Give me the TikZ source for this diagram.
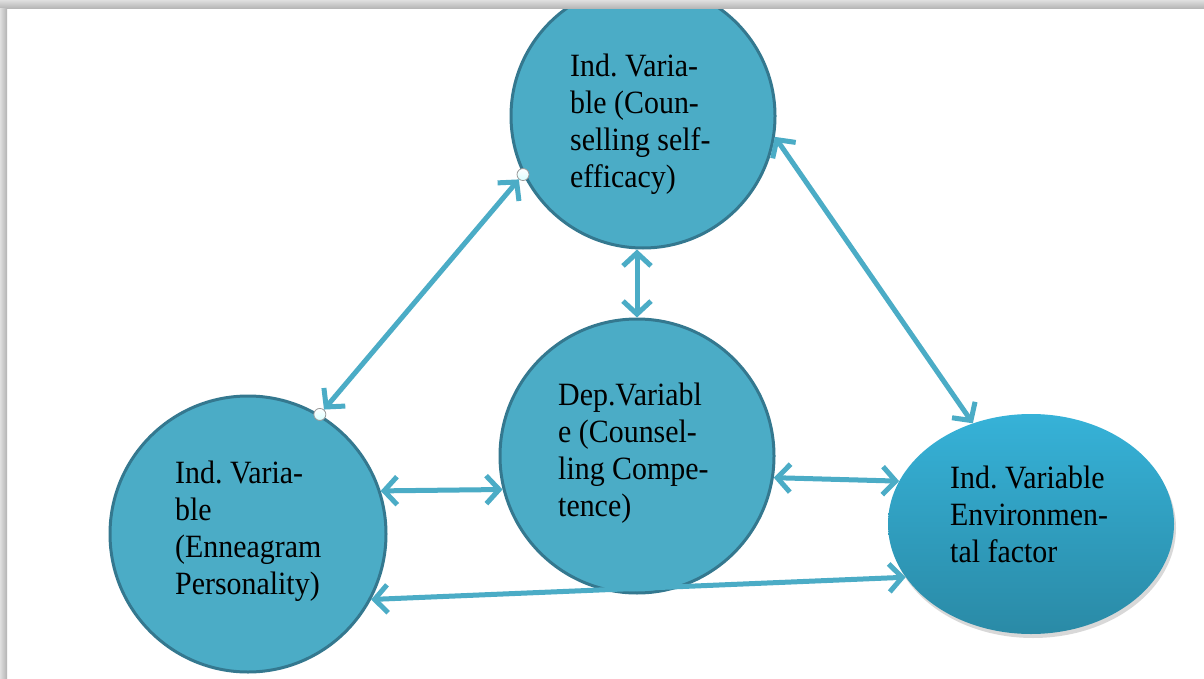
\documentclass[tikz,border=0pt]{standalone}
\usepackage{fontspec}
\setmainfont[FakeStretch=0.92]{Liberation Serif}
\usetikzlibrary{arrows.meta,shapes.geometric,shadows,calc}
\definecolor{acc}{HTML}{4BACC6}
\definecolor{accdark}{HTML}{34788F}
\definecolor{eltop}{HTML}{36B2D8}
\definecolor{elbot}{HTML}{2A8AA6}
\begin{document}
\frenchspacing
\begin{tikzpicture}[x=1pt,y=-1pt,
  bubble/.style={circle, draw=accdark, line width=3pt, fill=acc, minimum size=#1, inner sep=0pt},
  oval/.style={ellipse, minimum width=286pt, minimum height=220pt, inner sep=0pt,
    top color=eltop, bottom color=elbot,
    drop shadow={opacity=0.3, shadow xshift=2pt, shadow yshift=-4pt}},
  handle/.style={circle, draw=gray!80, line width=0.8pt, top color=white, bottom color=cyan!15, minimum size=12pt, inner sep=0pt},
  barb/.tip={Straight Barb[length=13pt,width=28pt]},
  conn/.style={draw=acc, line width=5pt, barb-barb},
  lbl/.style={anchor=base west, inner sep=0pt, text width=220pt, align=flush left,
    font=\fontsize{32.5}{37}\selectfont, text=black}]
\useasboundingbox (0,0) rectangle (1204,679);
\fill[white] (0,0) rectangle (1204,679);

% shapes
\node[bubble=264pt] (top) at (643,116) {};
\node[bubble=274pt] (mid) at (637,456) {};
\node[bubble=276pt] (left) at (248,534) {};
\node[oval] (right) at (1031,524) {};

% handles
\node[handle] (h1) at (top.206) {};
\node[handle] (h2) at (left.59) {};

% connectors
\draw[conn] (h2) -- (h1);
\draw[conn] (mid.north) -- (top.south -| mid.north);
\draw[conn] (top.-9) -- (right.120);
\draw[conn] (left.18) -- (mid.194);
\draw[conn] (mid.-9) -- (right.162.5);
\draw[conn] (left.-28) -- (right.203);

% texts
\node[lbl] (ttop) at (570,77) {Ind. Varia-\\ble (Coun-\\selling self-\\efficacy)};
\node[lbl] (tmid) at (558,405) {Dep.Variabl\\e (Counsel-\\ling Compe-\\tence)};
\node[lbl] (tleft) at (175,483) {Ind. Varia-\\ble\\(Enneagram\\Personality)};
\node[lbl] (tright) at (950,488) {Ind. Variable\\Environmen-\\tal factor};

% page shadow bands
\shade[top color=gray!25, bottom color=gray!60] (0,0) rectangle (1204,9);
\shade[left color=gray!25, right color=gray!60] (0,9) rectangle (7,679);
\end{tikzpicture}
\end{document}
